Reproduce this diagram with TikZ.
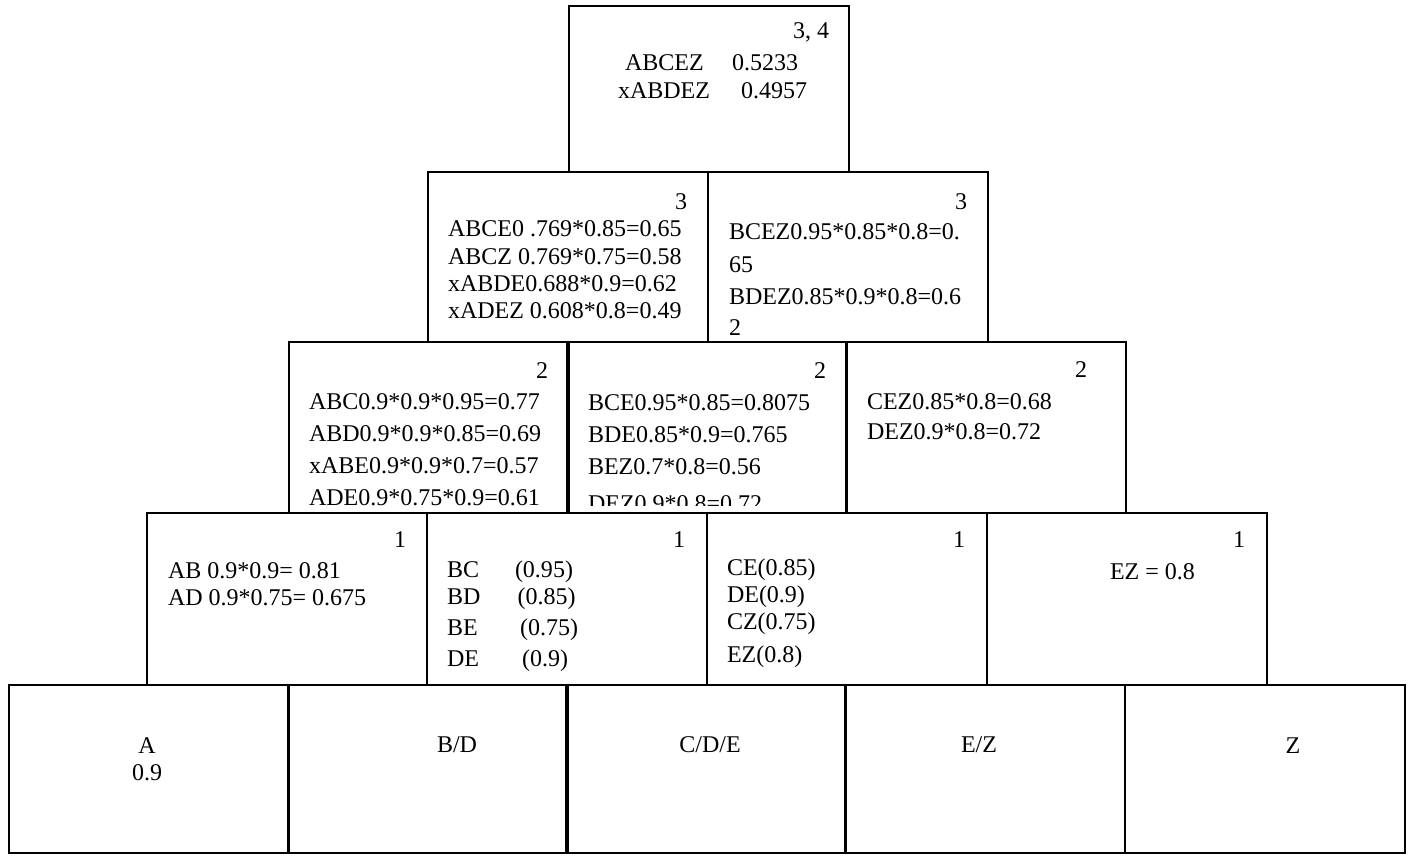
\documentclass[tikz,border=0pt]{standalone}
\usepackage{fontspec}
\setmainfont{Liberation Serif}

\begin{document}
\begin{tikzpicture}[x=0.5pt, y=-0.5pt,
    every node/.style={inner sep=0pt, outer sep=0pt, font=\fontsize{12pt}{14pt}\selectfont},
    cell/.style={draw, line width=1pt, anchor=north west, minimum width=139.75pt, minimum height=#1},
    cell/.default=85pt,
    txt/.style={anchor=base west},
    num/.style={anchor=base east},
    lab/.style={anchor=base}]
\useasboundingbox (0,0) rectangle (1412,856);

% boxes, from the top of the pyramid down
\node[cell=83pt] (top) at (569,6) {};
\foreach \x [count=\i] in {428,708}
    \node[cell] (r3-\i) at (\x,172) {};
\foreach \x [count=\i] in {289,567,846}
    \node[cell=85.5pt] (r2-\i) at (\x,342) {};
\foreach \x [count=\i] in {147,427,707,987}
    \node[cell=86pt] (r1-\i) at (\x,513) {};
\foreach \x [count=\i] in {9,288,566,845,1125}
    \node[cell=84pt] (r0-\i) at (\x,685) {};

% top box
\node[num] (n4) at (829,39) {3, 4};
\node[txt] (a4-1) at (625,71) {ABCEZ};
\node[txt] (v4-1) at (732,71) {0.5233};
\node[txt] (a4-2) at (618,98) {xABDEZ};
\node[txt] (v4-2) at (741,98) {0.4957};

% level 3
\node[num] (n3-1) at (687,209) {3};
\node[num] (n3-2) at (967,209) {3};
\foreach \y/\t [count=\i] in {236/{ABCE0 .769*0.85=0.65}, 264/{ABCZ 0.769*0.75=0.58},
        291/{xABDE0.688*0.9=0.62}, 318/{xADEZ 0.608*0.8=0.49}}
    \node[txt] (a3-\i) at (448,\y) {\t};
\foreach \y/\t [count=\i] in {239.5/{BCEZ0.95*0.85*0.8=0.}, 272/65,
        304.5/{BDEZ0.85*0.9*0.8=0.6}, 335/2}
    \node[txt] (b3-\i) at (729,\y) {\t};

% level 2
\node[num] (n2-1) at (548,378) {2};
\node[num] (n2-2) at (826,378) {2};
\node[num] (n2-3) at (1087,377) {2};
\foreach \y/\t [count=\i] in {409/{ABC0.9*0.9*0.95=0.77}, 441/{ABD0.9*0.9*0.85=0.69},
        473/{xABE0.9*0.9*0.7=0.57}, 505/{ADE0.9*0.75*0.9=0.61}}
    \node[txt] (a2-\i) at (309,\y) {\t};
\begin{scope}
    \clip (567,342) rectangle (846,505);
    \foreach \y/\t [count=\i] in {410/{BCE0.95*0.85=0.8075}, 442/{BDE0.85*0.9=0.765},
            474/{BEZ0.7*0.8=0.56}, 511/{DEZ0.9*0.8=0.72}}
        \node[txt] (b2-\i) at (588,\y) {\t};
\end{scope}
\node[txt] (c2-1) at (867,409) {CEZ0.85*0.8=0.68};
\node[txt] (c2-2) at (867,439.5) {DEZ0.9*0.8=0.72};

% level 1
\foreach \x [count=\i] in {406,685,965,1245}
    \node[num] (n1-\i) at (\x,547) {1};
\node[txt] (a1-1) at (168,578) {AB 0.9*0.9= 0.81};
\node[txt] (a1-2) at (168,605) {AD 0.9*0.75= 0.675};
\foreach \y/\a/\xv/\v [count=\i] in {577/BC/515/{(0.95)}, 604/BD/517.5/{(0.85)},
        635/BE/520/{(0.75)}, 666/DE/522/{(0.9)}} {
    \node[txt] (b1-\i) at (447,\y) {\a};
    \node[txt] (p1-\i) at (\xv,\y) {\v};
}
\foreach \y/\t [count=\i] in {575/{CE(0.85)}, 602/{DE(0.9)}, 629/{CZ(0.75)}, 662/{EZ(0.8)}}
    \node[txt] (c1-\i) at (727,\y) {\t};
\node[txt] (d1-1) at (1110,579) {EZ = 0.8};

% bottom row
\node[lab] (s-a) at (147,753) {A};
\node[lab] (s-av) at (147,780) {0.9};
\node[lab] (s-bd) at (457,752) {B/D};
\node[lab] (s-cde) at (710,752) {C/D/E};
\node[lab] (s-ez) at (979,752) {E/Z};
\node[lab] (s-z) at (1293,753) {Z};
\end{tikzpicture}
\end{document}
